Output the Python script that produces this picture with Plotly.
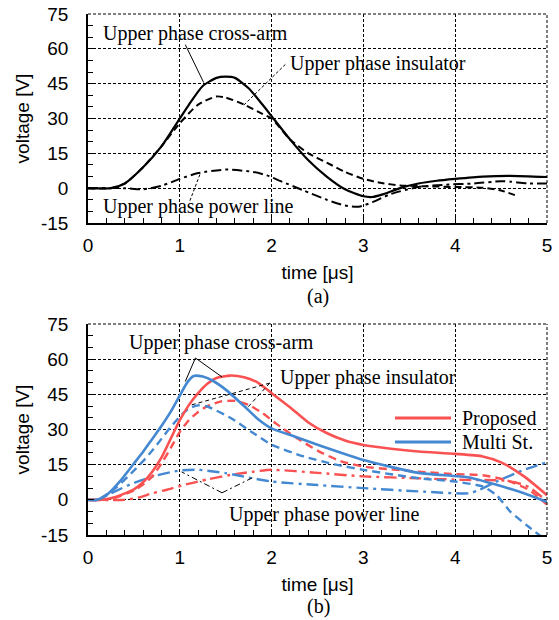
import plotly.graph_objects as go

# ---------------- data (a) ----------------
ta_arm = [0, 0.25, 0.4, 0.6, 0.8, 1.0, 1.1, 1.25, 1.4, 1.5, 1.6, 1.75, 1.9, 2.0, 2.2, 2.4, 2.6, 2.8, 3.0, 3.1, 3.2, 3.4, 3.6, 3.8, 4.0, 4.3, 4.6, 5.0]
va_arm = [0, 0, 2, 9, 18, 30, 36, 44, 47.5, 48, 47.5, 43, 36, 31, 21, 12, 5, -0.5, -3.5, -3.8, -2.8, 0, 2, 3.2, 4, 5, 5.3, 4.8]

ta_ins = [0, 0.25, 0.4, 0.6, 0.8, 1.0, 1.2, 1.4, 1.5, 1.7, 1.9, 2.0, 2.2, 2.4, 2.6, 2.8, 3.0, 3.2, 3.4, 3.7, 4.0, 4.3, 4.5, 4.65]
va_ins = [0, 0, 2, 9, 18, 28, 36, 39.5, 39, 36, 32, 30, 21, 15, 11, 7, 4, 2.2, 1.2, 0.8, 0.5, 0.2, -1, -3]

ta_pow = [0, 0.4, 0.6, 0.8, 1.0, 1.2, 1.5, 1.8, 1.95, 2.1, 2.35, 2.6, 2.8, 2.95, 3.1, 3.3, 3.6, 3.9, 4.2, 4.5, 4.6, 4.8, 5.0]
va_pow = [0, 0, -0.5, 1, 4, 6.5, 8, 7, 5.5, 3, -1, -5, -7.5, -8, -6, -2.5, 0.5, 1.5, 2, 3, 2.8, 2, 2]

# ---------------- data (b) ----------------
tb_prop_arm = [0, 0.15, 0.3, 0.5, 0.6, 0.7, 0.8, 0.9, 1.0, 1.1, 1.2, 1.3, 1.4, 1.55, 1.7, 1.85, 2.0, 2.2, 2.4, 2.6, 2.8, 3.0, 3.3, 3.6, 4.0, 4.3, 4.5, 4.75, 5.0]
vb_prop_arm = [0, 0, 1.2, 4.5, 7.5, 12, 18, 26, 34, 40.5, 45.5, 49.5, 52, 53, 52.3, 50, 45.5, 39.5, 33, 28.5, 25.3, 23.4, 21.8, 20.6, 19.6, 18.5, 16, 10, 2]

tb_prop_ins = [0, 0.15, 0.3, 0.5, 0.6, 0.7, 0.8, 0.9, 1.0, 1.1, 1.2, 1.3, 1.45, 1.6, 1.75, 1.9, 2.05, 2.25, 2.5, 2.75, 3.0, 3.3, 3.6, 4.0, 4.3, 4.55, 4.8, 5.0]
vb_prop_ins = [0, 0, 1, 4, 6.5, 10, 15.5, 22, 29, 34, 37.5, 40, 42, 42.2, 40.5, 37, 32.5, 27, 21, 16.5, 14.2, 13, 12, 11, 10.5, 8.5, 4.3, -2]

tb_prop_pow = [0, 0.4, 0.55, 0.7, 0.86, 1.05, 1.3, 1.55, 1.8, 2.0, 2.5, 3.0, 3.6, 4.1, 4.5, 4.65, 4.8, 5.0]
vb_prop_pow = [0, 0, 1, 2.8, 4.3, 6.4, 8.7, 10.6, 12, 12.8, 11.5, 10, 9.2, 8.5, 8.3, 7.5, 5.5, -0.6]

tb_ms_arm = [0, 0.1, 0.2, 0.35, 0.5, 0.6, 0.7, 0.8, 0.9, 1.0, 1.08, 1.15, 1.25, 1.35, 1.5, 1.7, 1.85, 2.0, 2.25, 2.5, 3.0, 3.6, 4.15, 4.45, 4.75, 5.0]
vb_ms_arm = [0, 0, 2, 8, 15.5, 20.5, 26, 31.5, 37.5, 44.5, 50, 52.8, 52.6, 51, 47, 40, 34.5, 30.5, 27, 23.5, 17, 11.5, 9.5, 6.4, 2.8, -0.9]

tb_ms_ins = [0, 0.1, 0.3, 0.5, 0.6, 0.7, 0.8, 0.9, 1.0, 1.1, 1.2, 1.3, 1.55, 1.8, 2.0, 2.35, 2.7, 3.0, 3.6, 4.0, 4.3, 4.45, 4.6, 4.8, 5.0]
vb_ms_ins = [0, 0, 5, 12.5, 16.5, 21, 26, 31, 35.5, 39, 40.3, 39.8, 35, 28.5, 23.5, 18.5, 15, 12.8, 9.2, 7.8, 5.7, 2, -5, -11.5, -17.5]

tb_ms_pow = [0, 0.1, 0.25, 0.5, 0.75, 1.0, 1.2, 1.5, 1.75, 2.0, 2.5, 3.0, 3.6, 4.15, 4.25, 4.45, 4.75, 5.0]
vb_ms_pow = [0, 0, 2.8, 7.2, 10.4, 12.5, 12.8, 11.4, 9.5, 7.8, 6.3, 5, 3.6, 2.8, 4, 7.8, 12.8, 16]

# ticks
x_ticks = [0, 1, 2, 3, 4, 5]
x_ticktext = ["0", "1", "2", "3", "4", "5"]
y_ticks = [-15, 0, 15, 30, 45, 60, 75]
y_ticktext = ["-15", "0", "15", "30", "45", "60", "75"]

legend_names = ["Proposed", "Multi St."]
label_arm = "Upper phase cross-arm"
label_ins = "Upper phase insulator"
label_pow = "Upper phase power line"

# ---------------- styling ----------------
RED = "#FA5252"
BLUE = "#4488D2"
W, H = 559, 620
SANS = "Liberation Sans, Arial, sans-serif"
SERIF = "Liberation Serif, Times New Roman, serif"

DASH_A = "7px,4px"
DASHDOT_A = "10px,4px,3px,4px"
DASH_B = "8px,5px"
DASHDOT_B = "12px,5px,3px,5px"

fig = go.Figure()

def add(x, y, xa, ya, color, width, dash):
    fig.add_trace(go.Scatter(x=x, y=y, mode="lines", xaxis=xa, yaxis=ya,
                             line=dict(color=color, width=width, dash=dash, shape="spline", smoothing=0.6),
                             showlegend=False, hoverinfo="skip"))

# (a)
add(ta_ins, va_ins, "x", "y", "black", 2.0, DASH_A)
add(ta_pow, va_pow, "x", "y", "black", 2.0, DASHDOT_A)
add(ta_arm, va_arm, "x", "y", "black", 2.2, "solid")

# (b)
add(tb_prop_pow, vb_prop_pow, "x2", "y2", RED, 2.4, DASHDOT_B)
add(tb_ms_pow, vb_ms_pow, "x2", "y2", BLUE, 2.4, DASHDOT_B)
add(tb_prop_ins, vb_prop_ins, "x2", "y2", RED, 2.4, DASH_B)
add(tb_ms_ins, vb_ms_ins, "x2", "y2", BLUE, 2.4, DASH_B)
add(tb_prop_arm, vb_prop_arm, "x2", "y2", RED, 2.6, "solid")
add(tb_ms_arm, vb_ms_arm, "x2", "y2", BLUE, 2.6, "solid")

xdom = [88 / W, 547 / W]
ydom_a = [(H - 223) / H, (H - 14) / H]
ydom_b = [(H - 535) / H, (H - 324) / H]

def xaxis(dom, anchor):
    return dict(domain=dom, anchor=anchor, range=[0, 5], tickvals=x_ticks, ticktext=x_ticktext,
                automargin=False,
                showgrid=True, gridcolor="black", gridwidth=1, griddash="3px,2px",
                showline=True, linecolor="black", linewidth=1.5, mirror=False,
                ticks="inside", ticklen=6, tickcolor="black", ticklabelstandoff=4,
                tickfont=dict(family=SANS, size=19, color="black"),
                minor=dict(dtick=0.2, ticks="inside", ticklen=5, tickcolor="black", showgrid=False),
                title=dict(text="time [μs]", font=dict(family=SANS, size=19, color="black"), standoff=11),
                zeroline=False, fixedrange=True)

def yaxis(dom, anchor):
    return dict(domain=dom, anchor=anchor, range=[-15, 75], tickvals=y_ticks, ticktext=y_ticktext,
                automargin=False,
                showgrid=True, gridcolor="black", gridwidth=1, griddash="3px,2px",
                showline=True, linecolor="black", linewidth=1.5, mirror=False,
                ticks="inside", ticklen=6, tickcolor="black", ticklabelstandoff=14,
                tickfont=dict(family=SANS, size=19, color="black"),
                minor=dict(dtick=5, ticks="inside", ticklen=5, tickcolor="black", showgrid=False),
                title=dict(text="voltage [V]", font=dict(family=SANS, size=19, color="black"), standoff=6),
                zeroline=False, fixedrange=True)

shapes = []
# dashed top/right borders
for yd in (ydom_a, ydom_b):
    shapes.append(dict(type="line", xref="paper", yref="paper", x0=xdom[0], x1=xdom[1], y0=yd[1], y1=yd[1],
                       line=dict(color="black", width=1, dash="3px,2px")))
    shapes.append(dict(type="line", xref="paper", yref="paper", x0=xdom[1], x1=xdom[1], y0=yd[0], y1=yd[1],
                       line=dict(color="black", width=1, dash="3px,2px")))

def seg(xr, yr, x0, y0, x1, y1, dash):
    shapes.append(dict(type="line", xref=xr, yref=yr, x0=x0, y0=y0, x1=x1, y1=y1,
                       line=dict(color="black", width=1, dash=dash)))

# (a) pointers
seg("x", "y", 1.06, 61.8, 1.26, 45.5, "solid")
seg("x", "y", 2.15, 53.3, 1.69, 35.5, "3px,2px")
seg("x", "y", 1.11, -5.4, 1.22, 6.0, "3px,2px")
# (b) pointers
seg("x2", "y2", 1.17, 60.5, 1.06, 50.5, "solid")
seg("x2", "y2", 1.17, 60.5, 1.46, 52.4, "solid")
seg("x2", "y2", 1.98, 49.8, 1.11, 40.3, "4px,3px")
seg("x2", "y2", 1.98, 49.8, 1.74, 39.5, "4px,3px")
seg("x2", "y2", 1.46, 3.0, 1.02, 11.9, "6px,3px,2px,3px")
seg("x2", "y2", 1.46, 3.0, 1.79, 9.4, "6px,3px,2px,3px")

# legend samples
leg_y = [(H - 418) / H, (H - 442) / H]
for yy, col in zip(leg_y, [RED, BLUE]):
    shapes.append(dict(type="line", xref="paper", yref="paper", x0=395 / W, x1=451 / W, y0=yy, y1=yy,
                       line=dict(color=col, width=3)))

annotations = []
def txt(x, y, s, xr="x", yr="y", xanchor="center", size=20, family=SERIF):
    annotations.append(dict(x=x, y=y, xref=xr, yref=yr, text=s, showarrow=False, xanchor=xanchor,
                            yanchor="middle", font=dict(family=family, size=size, color="black")))

txt(1.17, 66.6, label_arm)
txt(3.16, 53.7, label_ins)
txt(1.2, -8.0, label_pow)
txt(1.45, 67.3, label_arm, "x2", "y2")
txt(3.05, 52.0, label_ins, "x2", "y2")
txt(2.58, -6.4, label_pow, "x2", "y2")
for yy, name in zip(leg_y, legend_names):
    txt(460 / W, yy, name, "paper", "paper", xanchor="left")
txt(318 / W, (H - 296) / H, "(a)", "paper", "paper")
txt(318 / W, (H - 606) / H, "(b)", "paper", "paper")

fig.update_layout(
    width=W, height=H, margin=dict(l=0, r=0, t=0, b=0, autoexpand=False),
    paper_bgcolor="white", plot_bgcolor="white",
    xaxis=xaxis(xdom, "y"), yaxis=yaxis(ydom_a, "x"),
    xaxis2=xaxis(xdom, "y2"), yaxis2=yaxis(ydom_b, "x2"),
    shapes=shapes, annotations=annotations, showlegend=False,
)

fig.write_html("out.html", config={"displayModeBar": False},
               post_script="document.body.style.margin='0';document.body.style.overflow='hidden';")
